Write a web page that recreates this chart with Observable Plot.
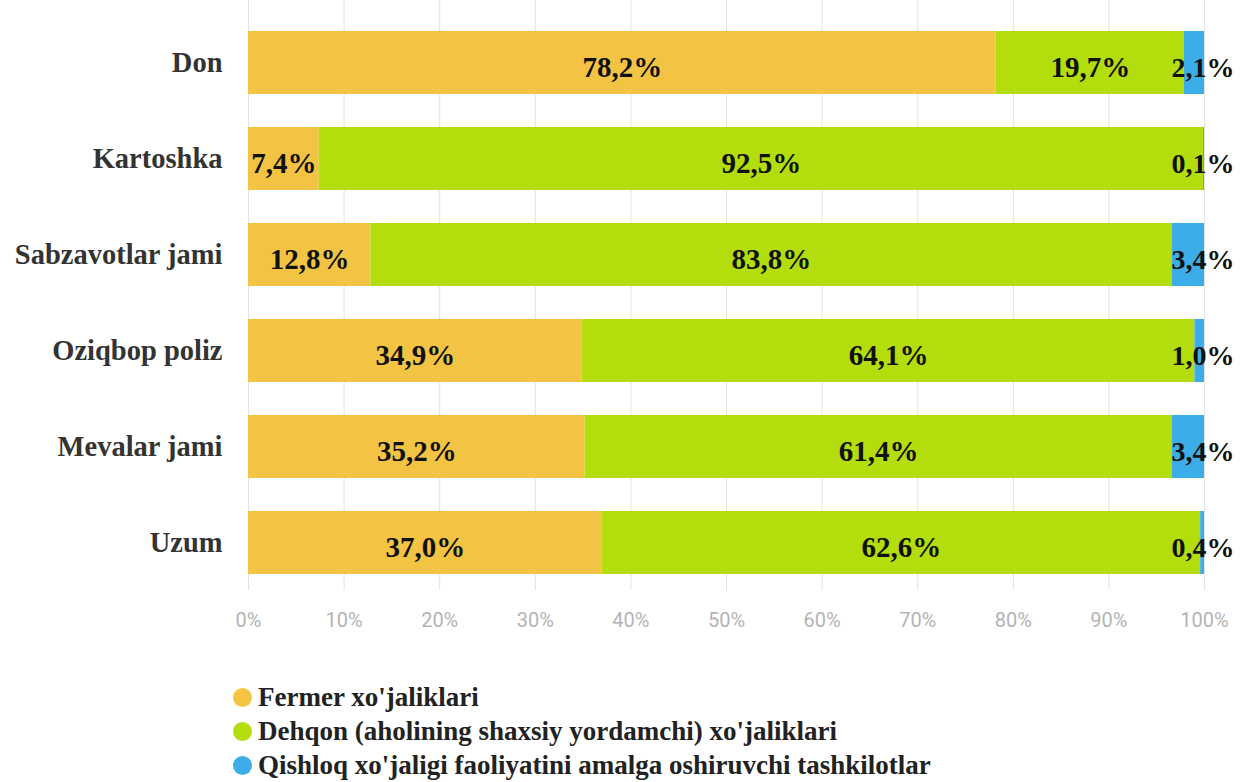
<!DOCTYPE html>
<html><head><meta charset="utf-8">
<script src="https://cdn.jsdelivr.net/npm/d3@7"></script>
<script src="https://cdn.jsdelivr.net/npm/@observablehq/plot@0.6"></script>
<style>
body{margin:0;background:#fff;}
#legend{margin:30px 0 0 233px;font-family:"Liberation Serif","Times New Roman",serif;font-weight:bold;font-size:27px;color:#222;}
#legend div{display:flex;align-items:center;height:34px;white-space:nowrap;}
#legend span.dot{display:inline-block;width:19px;height:19px;border-radius:50%;margin-right:6px;flex:none;}
</style>
</head><body><div id="chart"></div><div id="legend"></div>
<script>
const categories = ["Don", "Kartoshka", "Sabzavotlar jami", "Oziqbop poliz", "Mevalar jami", "Uzum"];
const seriesNames = ["Fermer xo'jaliklari", "Dehqon (aholining shaxsiy yordamchi) xo'jaliklari", "Qishloq xo'jaligi faoliyatini amalga oshiruvchi tashkilotlar"];
const fermer = [78.2, 7.4, 12.8, 34.9, 35.2, 37.0];
const dehqon = [19.7, 92.5, 83.8, 64.1, 61.4, 62.6];
const tashkilot = [2.1, 0.1, 3.4, 1.0, 3.4, 0.4];
const colors = ["#F3C443", "#B3DD0D", "#3DADE8"];
const xTicks = [0, 10, 20, 30, 40, 50, 60, 70, 80, 90, 100];

const seriesValues = [fermer, dehqon, tashkilot];
const data = [];
seriesNames.forEach((s, si) => categories.forEach((c, ci) => data.push({cat: c, series: s, value: seriesValues[si][ci]})));
const fmt = v => v.toFixed(1).replace(".", ",") + "%";
const last = seriesNames[2];
const serif = "'Liberation Serif','Times New Roman',serif";

const chart = Plot.plot({
  width: 1244, height: 650,
  marginLeft: 248, marginRight: 40, marginTop: 0, marginBottom: 60,
  style: {background: "#fff"},
  x: {domain: [0, 100]},
  y: {domain: categories, padding: 0.342, paddingOuter: 0.24, align: 0.67},
  color: {domain: seriesNames, range: colors},
  marks: [
    Plot.gridX(xTicks, {stroke: "#e2e2e2", strokeOpacity: 1}),
    Plot.barX(data, Plot.stackX({x: "value", y: "cat", z: "series", fill: "series", order: seriesNames})),
    Plot.text(data, Plot.stackX({x: "value", y: "cat", z: "series", order: seriesNames,
      text: d => d.series === last ? "" : fmt(d.value),
      fontFamily: serif, fontWeight: "bold", fontSize: 29, fill: "#111", dy: 5})),
    Plot.text(data, Plot.stackX2({x: "value", y: "cat", z: "series", order: seriesNames,
      text: d => d.series === last ? fmt(d.value) : "",
      textAnchor: "end", dx: 30,
      fontFamily: serif, fontWeight: "bold", fontSize: 28, fill: "#111", dy: 5})),
    Plot.axisY({tickSize: 0, tickPadding: 26, label: null, fontFamily: serif, fontWeight: "bold", fontSize: 28.5, fill: "#333"}),
    Plot.axisX(xTicks, {tickSize: 0, tickPadding: 22, label: null, tickFormat: d => d + "%",
      fontFamily: "'Liberation Sans Narrow','Roboto',sans-serif", fontSize: 20, fill: "#b4b4b4"})
  ]
});
document.getElementById("chart").appendChild(chart);

const legend = document.getElementById("legend");
seriesNames.forEach((s, i) => {
  const row = document.createElement("div");
  const dot = document.createElement("span");
  dot.className = "dot";
  dot.style.background = colors[i];
  row.appendChild(dot);
  row.appendChild(document.createTextNode(s));
  legend.appendChild(row);
});
</script>
</body></html>
